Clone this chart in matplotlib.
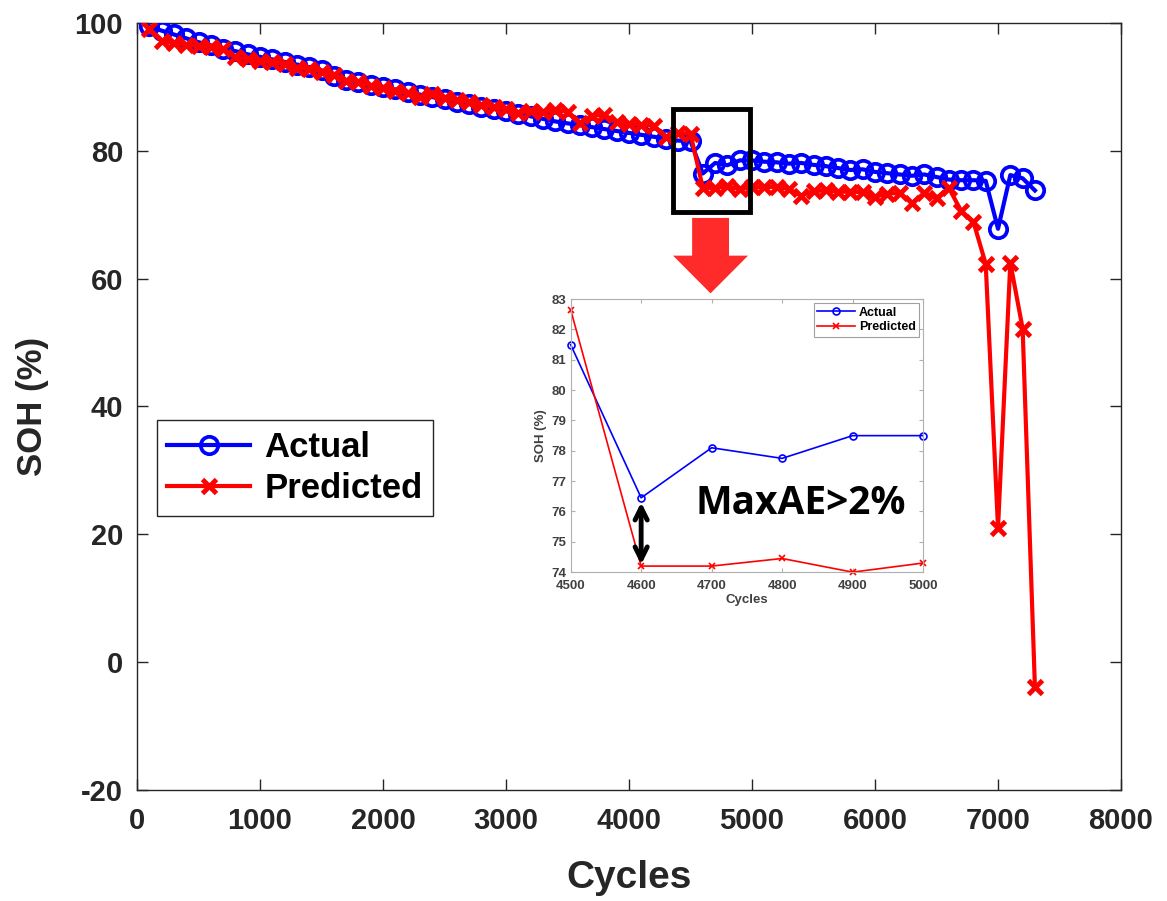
# ---------------------- IMPORTS
import matplotlib
import matplotlib.pyplot as plt
from matplotlib.patches import Rectangle, FancyArrow

matplotlib.use('Agg')

# ---------------------- DATA

cycles = list(range(100, 7400, 100))

actual = [99.5, 98.8, 98.2, 97.6, 97.0, 96.5, 96.0, 95.6, 95.1, 94.7,
          94.3, 93.9, 93.5, 93.1, 92.6, 91.7, 91.1, 90.7, 90.3, 90.0,
          89.6, 89.2, 88.8, 88.4, 88.1, 87.7, 87.3, 86.9, 86.6, 86.2,
          85.8, 85.4, 85.0, 84.6, 84.3, 84.0, 83.7, 83.4, 83.1, 82.8,
          82.5, 82.2, 81.9, 81.6, 81.5, 76.45, 78.1, 77.75, 78.5, 78.5,
          78.3, 78.2, 78.0, 78.1, 77.8, 77.6, 77.3, 77.0, 77.1, 76.7,
          76.5, 76.3, 76.1, 76.3, 75.9, 75.5, 75.4, 75.4, 75.3, 67.8,
          76.2, 75.7, 73.8]

predicted = [99.1, 97.2, 96.8, 96.6, 96.4, 96.2, 95.9, 94.6, 94.3, 94.0,
             93.9, 93.6, 93.0, 92.8, 92.4, 91.9, 91.0, 90.8, 90.2, 89.8,
             89.4, 89.0, 88.4, 88.9, 88.2, 88.0, 87.6, 87.2, 86.8, 86.6,
             85.9, 86.3, 86.0, 86.4, 86.1, 84.3, 85.5, 85.6, 84.5, 84.2,
             84.1, 83.9, 82.2, 82.8, 82.65, 74.2, 74.2, 74.45, 74.0, 74.3,
             74.3, 74.4, 74.0, 73.0, 73.7, 73.8, 73.6, 73.6, 73.5, 72.8,
             73.3, 73.4, 71.8, 73.4, 72.6, 74.2, 70.6, 68.9, 62.3, 21.0,
             62.5, 52.2, -3.9]

# zoomed window shown in the inset
zoom_cycles = [4500, 4600, 4700, 4800, 4900, 5000]
zoom_actual = [81.5, 76.45, 78.1, 77.75, 78.5, 78.5]
zoom_predicted = [82.65, 74.2, 74.2, 74.45, 74.0, 74.3]

x_ticks = [0, 1000, 2000, 3000, 4000, 5000, 6000, 7000, 8000]
y_ticks = [-20, 0, 20, 40, 60, 80, 100]

plt.rcParams['font.family'] = ['Liberation Sans', 'DejaVu Sans']
plt.rcParams['font.weight'] = 'bold'
plt.rcParams['axes.unicode_minus'] = False

dark = '#262626'

# ---------------------- MAIN AXES

fig = plt.figure(figsize=(11.67, 9.01), dpi=100)
ax = fig.add_axes([0.1174, 0.1232, 0.8432, 0.8513])

ax.plot(cycles, actual, '-o', color='blue', lw=3, ms=12.5, mew=2.7,
        mfc='none', label='Actual', zorder=3)
ax.plot(cycles, predicted, '-x', color='red', lw=3, ms=10, mew=3.5,
        label='Predicted', zorder=4)

ax.set_xlim(0, 8000)
ax.set_ylim(-20, 100)
ax.set_xticks(x_ticks)
ax.set_yticks(y_ticks)
ax.tick_params(direction='in', top=True, right=True, length=8, width=1,
               labelsize=21, labelcolor=dark, color=dark)
ax.tick_params(axis='x', pad=12)
ax.tick_params(axis='y', pad=10)
for lab in ax.get_xticklabels() + ax.get_yticklabels():
    lab.set_fontweight('bold')
for sp in ax.spines.values():
    sp.set_color(dark)
    sp.set_linewidth(1)

ax.set_xlabel('Cycles', fontsize=28, fontweight='bold', color=dark, labelpad=18)
ax.set_ylabel('SOH (%)', fontsize=25, fontweight='bold', color=dark, labelpad=18)

leg = ax.legend(loc='upper left', bbox_to_anchor=(0.02, 0.482),
                prop={'weight': 'bold', 'size': 25}, handlelength=2.4,
                borderpad=0.3, labelspacing=0.25, handletextpad=0.4,
                borderaxespad=0, fancybox=False, edgecolor=dark, framealpha=1)
leg.get_frame().set_linewidth(1)

# highlight box and red arrow pointing at the inset
ax.add_patch(Rectangle((4354, 70.5), 626, 16.1, fill=False, ec='black',
                       lw=3.5, zorder=6))
ax.add_patch(FancyArrow(4663, 69.5, 0, -11.8, width=300, head_width=610,
                        head_length=5.9, length_includes_head=True,
                        color='#ff2a2a', lw=0, zorder=6))

# ---------------------- INSET

axin = fig.add_axes([0.489, 0.365, 0.302, 0.303])
axin.plot(zoom_cycles, zoom_actual, '-o', color='blue', lw=1.2, ms=5,
          mfc='none', mew=1.2, label='Actual', clip_on=False)
axin.plot(zoom_cycles, zoom_predicted, '-x', color='red', lw=1.2, ms=4,
          mew=1.2, label='Predicted', clip_on=False)
axin.set_xlim(4500, 5000)
axin.set_ylim(74, 83)
axin.set_xticks(zoom_cycles)
axin.set_yticks(range(74, 84))
axin.tick_params(direction='in', top=True, right=True, length=3, width=0.8,
                 labelsize=9.5, labelcolor='#404040', color='#b0b0b0')
axin.tick_params(axis='x', pad=6)
axin.tick_params(axis='y', pad=3)
for lab in axin.get_xticklabels() + axin.get_yticklabels():
    lab.set_fontweight('bold')
for sp in axin.spines.values():
    sp.set_color('#b0b0b0')
    sp.set_linewidth(0.8)
axin.set_xlabel('Cycles', fontsize=9.5, fontweight='bold', color='#404040', labelpad=1)
axin.set_ylabel('SOH (%)', fontsize=9.5, fontweight='bold', color='#404040', labelpad=3)
leg2 = axin.legend(loc='upper right', prop={'weight': 'bold', 'size': 9},
                   handlelength=3, borderpad=0.3, labelspacing=0.2,
                   handletextpad=0.3, fancybox=False, edgecolor='#a0a0a0',
                   framealpha=1, borderaxespad=0.3)
leg2.get_frame().set_linewidth(0.8)

# double-headed arrow showing the error gap
axin.annotate('', xy=(4600, 74.25), xytext=(4600, 76.3),
              arrowprops=dict(arrowstyle='<->', lw=3.5, color='black',
                              mutation_scale=22, shrinkA=0, shrinkB=0))

fig.text(801 / 1167, 1 - 503 / 901, 'MaxAE>2%', fontsize=28,
         fontweight='bold', family=['Open Sans', 'DejaVu Sans'],
         ha='center', va='center', color='black')

fig.savefig('out.png', dpi=100)
plt.close()
